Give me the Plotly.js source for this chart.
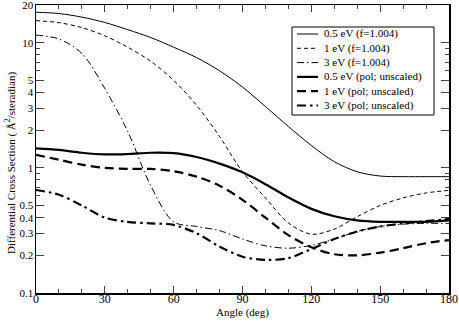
<!DOCTYPE html>
<html>
<head>
<meta charset="utf-8">
<script src="https://cdn.plot.ly/plotly-3.0.1.min.js"></script>
<style>html,body{margin:0;padding:0;background:#fff;}#chart{width:459px;height:322px;}</style>
</head>
<body>
<div id="chart"></div>
<script>
// Angles (deg)
const angles = [0,10,20,30,40,50,60,70,80,90,100,110,120,130,140,150,160,170,180];
// Series (Å²/steradian)
const f05 = [17.5,17.1,16.0,14.5,12.7,11.0,9.2,7.6,5.96,4.42,3.09,2.14,1.51,1.12,0.93,0.86,0.85,0.85,0.85];
const f1  = [15.0,14.45,13.2,11.35,9.2,7.1,5.0,3.16,1.78,0.93,0.575,0.363,0.295,0.324,0.407,0.50,0.575,0.63,0.66];
const f3  = [11.5,10.7,8.2,4.3,1.95,0.72,0.37,0.34,0.315,0.27,0.238,0.228,0.24,0.27,0.31,0.34,0.355,0.36,0.36];
const p05 = [1.43,1.39,1.32,1.28,1.29,1.32,1.31,1.22,1.08,0.92,0.74,0.58,0.47,0.41,0.38,0.37,0.37,0.37,0.38];
const p1  = [1.27,1.16,1.06,1.00,0.98,0.98,0.94,0.85,0.72,0.555,0.40,0.29,0.232,0.204,0.20,0.21,0.228,0.25,0.265];
const p3  = [0.665,0.61,0.50,0.40,0.37,0.36,0.35,0.30,0.235,0.195,0.184,0.19,0.225,0.27,0.31,0.34,0.36,0.375,0.39];
const seriesNames = ["0.5 eV (f=1.004)","1 eV (f=1.004)","3 eV (f=1.004)","0.5 eV (pol; unscaled)","1 eV (pol; unscaled)","3 eV (pol; unscaled)"];
const yTickVals = [0.1,0.2,0.3,0.4,0.5,1,2,3,4,5,10,20];
const yTickText = ["0.1","0.2","0.3","0.4","0.5","1","2","3","4","5","10","20"];
const yMinorVals = [0.6,0.7,0.8,0.9,6,7,8,9];
const xTickVals = [0,30,60,90,120,150,180];
const xMinorVals = [10,20,40,50,70,80,100,110,130,140,160,170];
const xTitle = 'Angle (deg)';
const yTitle = 'Differential Cross Section ( Å<sup>2</sup>/steradian)';

const seriesData = [f05,f1,f3,p05,p1,p3];
const widths = [1,1,1,2.2,2.2,2.2];
const dashes = ["solid","4px,3px","7px,3px,1.5px,3px","solid","9px,5px","9px,4px,2.5px,4px"];
const FONT = "Liberation Serif";

const traces = seriesData.map((d,i)=>({
  x: angles, y: d, name: seriesNames[i], type:'scatter', mode:'lines',
  line:{color:'#000', width:widths[i], dash:dashes[i], shape:'spline', smoothing:0.9},
  showlegend:false
}));

// custom legend box (xmgrace style)
const L = 36, R = 449, T = 5, B = 293;
const px = v => (v - L)/(R - L);
const py = v => (B - v)/(B - T);
const shapes = [{type:'rect', xref:'paper', yref:'paper', x0:px(292), x1:px(434), y0:py(115), y1:py(27),
  line:{color:'#000', width:1}, fillcolor:'#fff', layer:'above'}];
const annotations = [];
seriesNames.forEach((n,i)=>{
  const yc = 34 + i*14.3;
  shapes.push({type:'line', xref:'paper', yref:'paper', x0:px(297), x1:px(318), y0:py(yc), y1:py(yc),
    line:{color:'#000', width:widths[i], dash:dashes[i]}, layer:'above'});
  annotations.push({xref:'paper', yref:'paper', x:px(322), y:py(yc), xanchor:'left', yanchor:'middle',
    text:n, showarrow:false, font:{family:FONT, size:11, color:'#000'}});
});
// y-axis title (placed like the xmgrace original, slightly below centre)
annotations.push({xref:'paper', yref:'paper', x:px(10), y:py(163), xanchor:'center', yanchor:'middle',
  textangle:-90, text:yTitle, showarrow:false, font:{family:FONT, size:11, color:'#000'}});

const layout = {
  width:459, height:322,
  margin:{l:L, r:459-R, t:T, b:322-B, pad:0},
  paper_bgcolor:'#fff', plot_bgcolor:'#fff',
  font:{family:FONT, size:12, color:'#000'},
  showlegend:false,
  xaxis:{range:[0,180], tickmode:'array', tickvals:xTickVals, ticks:'inside', ticklen:7, tickwidth:1,
    showline:true, mirror:'ticks', linecolor:'#000', linewidth:1.5, showgrid:false, zeroline:false,
    ticklabelstandoff:-6, ticklabeloverflow:'allow',
    minor:{tickmode:'array', tickvals:xMinorVals, ticks:'inside', ticklen:4, tickwidth:1, showgrid:false},
    tickfont:{family:FONT, size:12}, title:{text:xTitle, font:{family:FONT, size:11}, standoff:1}},
  yaxis:{type:'log', range:[-1.000001, Math.log10(20)+0.000001], tickmode:'array', tickvals:yTickVals, ticktext:yTickText,
    ticks:'inside', ticklen:8, tickwidth:1, showline:true, mirror:'ticks', linecolor:'#000', linewidth:1.5,
    showgrid:false, zeroline:false, ticklabelstandoff:-1, ticklabeloverflow:'allow',
    minor:{tickmode:'array', tickvals:yMinorVals, ticks:'inside', ticklen:4, tickwidth:1, showgrid:false},
    tickfont:{family:FONT, size:11}},
  shapes:shapes, annotations:annotations
};
Plotly.newPlot('chart', traces, layout, {staticPlot:true, displayModeBar:false});
</script>
</body>
</html>
